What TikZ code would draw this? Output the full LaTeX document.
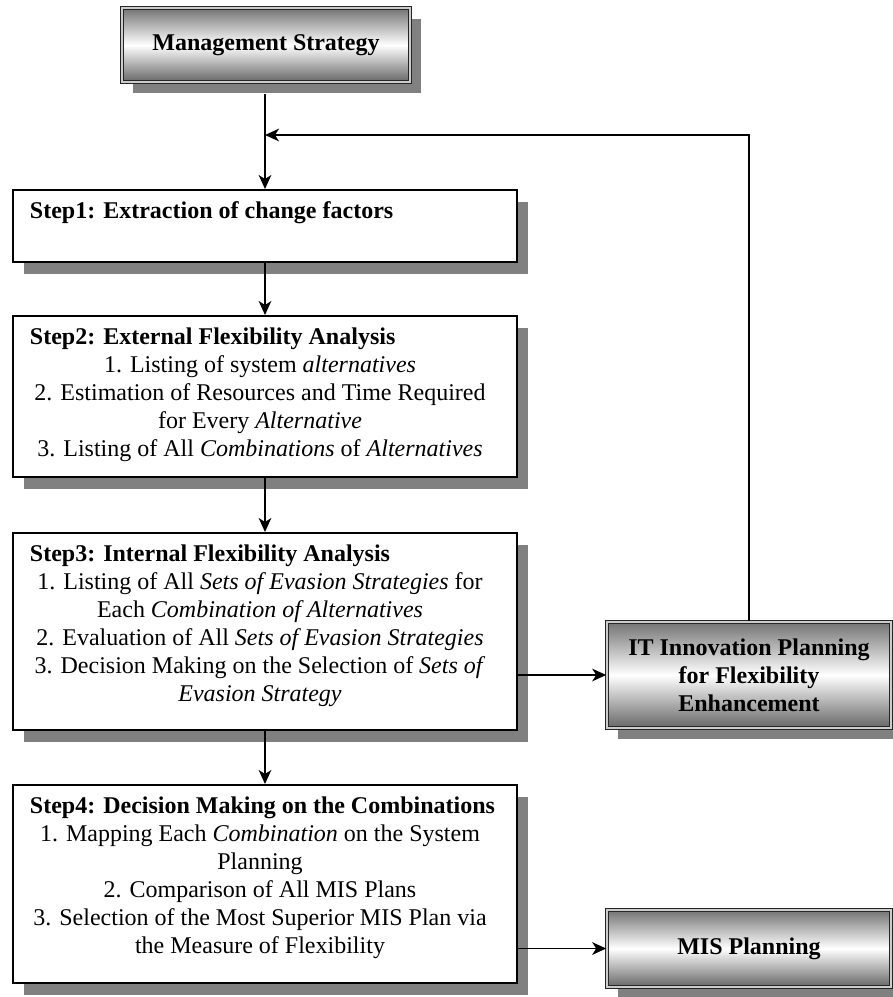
\documentclass[tikz,border=0pt]{standalone}
\usepackage{fontspec}
\setmainfont{Liberation Serif}
\usepackage{tikz}
\usetikzlibrary{arrows.meta,shadows}

% title left, listed items centred below it
\newcommand{\stepcontent}[3]{%
  \hspace*{9pt}\parbox[t][#1][t]{352.5pt}{\strut\hspace*{3.75pt}\textbf{#2}\par\centering #3}\hspace*{16.5pt}}

\begin{document}
\begin{tikzpicture}[x=0.75pt,y=-0.75pt,>={Stealth[length=10.5pt,width=9.5pt,inset=3pt]},
  every node/.style={font=\fontsize{18}{21}\selectfont},
  stepbox/.style={draw=black,line width=1.2pt,fill=white,inner xsep=0pt,inner ysep=7pt,anchor=north,
    drop shadow={shadow xshift=8pt,shadow yshift=-9pt,opacity=1,fill=gray}},
  fancybox/.style={draw=black!85,line width=1.2pt,double=gray!40,double distance=1.1pt,
    top color=black!55,bottom color=black!60,middle color=white,
    font=\fontsize{18}{21}\selectfont\bfseries,align=center,minimum width=213pt,
    drop shadow={shadow xshift=8pt,shadow yshift=-8.5pt,opacity=1,fill=gray}},
  link/.style={->,line width=1.2pt}]
  \useasboundingbox (0,0) rectangle (893,997);

  \node[fancybox,minimum width=216pt,minimum height=55.5pt] (ms) at (266,45) {Management Strategy};

  \node[stepbox] (s1) at (265,189) {\stepcontent{40pt}{Step1: Extraction of change factors}{}};
  \node[stepbox] (s2) at (265,315) {\stepcontent{106.7pt}{Step2: External Flexibility Analysis}{%
    1. Listing of system \textit{alternatives}\\
    2. Estimation of Resources and Time Required\\
    for Every \textit{Alternative}\\
    3. Listing of All \textit{Combinations} of \textit{Alternatives}}};
  \node[stepbox] (s3) at (265,532) {\stepcontent{133.8pt}{Step3: Internal Flexibility Analysis}{%
    1. Listing of All \textit{Sets of Evasion Strategies} for\\
    Each \textit{Combination of Alternatives}\\
    2. Evaluation of All \textit{Sets of Evasion Strategies}\\
    3. Decision Making on the Selection of \textit{Sets of}\\
    \textit{Evasion Strategy}}};
  \node[stepbox] (s4) at (265,784) {\stepcontent{134.5pt}{Step4: Decision Making on the Combinations}{%
    1. Mapping Each \textit{Combination} on the System\\
    Planning\\
    2. Comparison of All MIS Plans\\
    3. Selection of the Most Superior MIS Plan via\\
    the Measure of Flexibility}};

  \node[fancybox,minimum height=79.5pt] (it) at (749,675) {IT Innovation Planning\\ for Flexibility\\ Enhancement};
  \node[fancybox,minimum height=57.75pt] (mis) at (749,948.5) {MIS Planning};

  \coordinate (fb) at (265,135);
  \draw[link] ([yshift=-8.5pt]s1.north |- ms.south) -- (s1.north);
  \draw[link] (it.north) |- (fb);
  \draw[link] (s1.south) -- (s2.north);
  \draw[link] (s2.south) -- (s3.north);
  \draw[link] (s3.south) -- (s4.north);
  \draw[link] (s3.east |- it.west) -- (it.west);
  \draw[link] (s4.east |- mis.west) -- (mis.west);
\end{tikzpicture}
\end{document}
